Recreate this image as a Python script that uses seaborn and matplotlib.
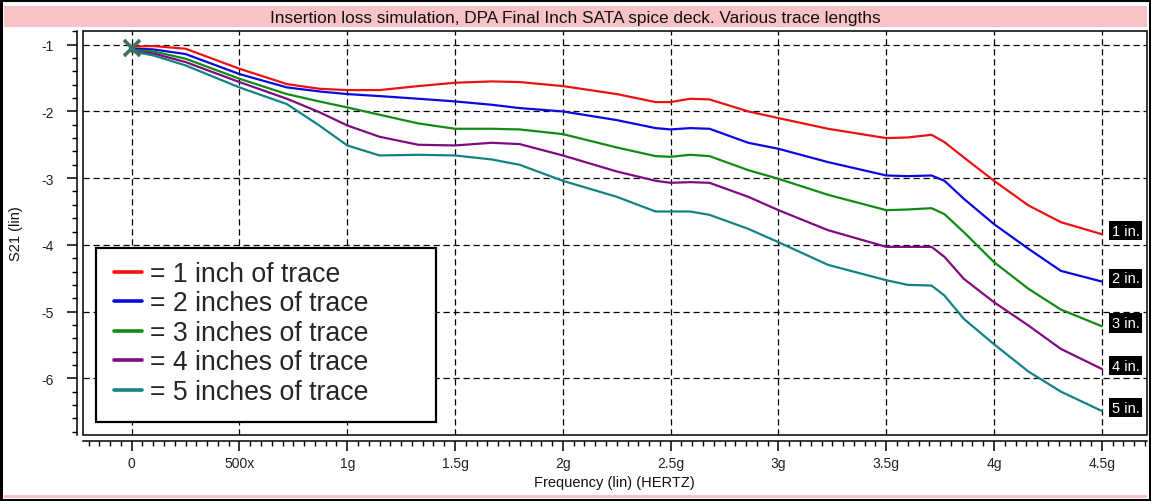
import numpy as np
import pandas as pd
import matplotlib
matplotlib.use("Agg")
import matplotlib.pyplot as plt
import seaborn as sns
from matplotlib.patches import Rectangle
from matplotlib.lines import Line2D
from matplotlib.ticker import MultipleLocator, FixedLocator, FixedFormatter

# ---------------- data ----------------
freq_ghz = [0.0, 0.1, 0.25, 0.5, 0.72, 0.87, 1.0, 1.15, 1.33, 1.5, 1.67, 1.8, 2.0,
            2.25, 2.43, 2.5, 2.59, 2.68, 2.86, 3.0, 3.23, 3.5, 3.6, 3.71, 3.77,
            3.86, 4.0, 4.16, 4.31, 4.5]

s21_1in = [-1.03, -1.02, -1.06, -1.36, -1.59, -1.66, -1.68, -1.68, -1.62, -1.57, -1.55,
           -1.56, -1.62, -1.74, -1.86, -1.86, -1.81, -1.82, -2.00, -2.10, -2.26, -2.40,
           -2.39, -2.35, -2.46, -2.69, -3.04, -3.41, -3.66, -3.84]
s21_2in = [-1.06, -1.07, -1.14, -1.44, -1.64, -1.70, -1.74, -1.77, -1.81, -1.85, -1.90,
           -1.95, -2.00, -2.13, -2.25, -2.27, -2.25, -2.26, -2.47, -2.56, -2.76, -2.96,
           -2.97, -2.96, -3.04, -3.31, -3.69, -4.06, -4.39, -4.55]
s21_3in = [-1.08, -1.10, -1.21, -1.51, -1.74, -1.85, -1.94, -2.05, -2.18, -2.26, -2.26,
           -2.27, -2.34, -2.54, -2.67, -2.68, -2.65, -2.67, -2.88, -3.01, -3.25, -3.48,
           -3.47, -3.45, -3.54, -3.81, -4.26, -4.66, -4.97, -5.22]
s21_4in = [-1.10, -1.13, -1.26, -1.56, -1.81, -2.01, -2.21, -2.38, -2.50, -2.51, -2.47,
           -2.49, -2.66, -2.90, -3.04, -3.07, -3.06, -3.07, -3.28, -3.48, -3.78, -4.03,
           -4.03, -4.03, -4.18, -4.51, -4.86, -5.21, -5.56, -5.86]
s21_5in = [-1.10, -1.16, -1.31, -1.64, -1.89, -2.21, -2.51, -2.66, -2.65, -2.66, -2.72,
           -2.80, -3.04, -3.28, -3.50, -3.50, -3.50, -3.55, -3.76, -3.96, -4.30, -4.53,
           -4.60, -4.61, -4.76, -5.11, -5.49, -5.90, -6.20, -6.49]

trace_tags = ["1 in.", "2 in.", "3 in.", "4 in.", "5 in."]
legend_labels = ["= 1 inch of trace", "= 2 inches of trace", "= 3 inches of trace",
                 "= 4 inches of trace", "= 5 inches of trace"]
x_tick_values = [0, 0.5, 1.0, 1.5, 2.0, 2.5, 3.0, 3.5, 4.0, 4.5]
x_tick_labels = ["0", "500x", "1g", "1.5g", "2g", "2.5g", "3g", "3.5g", "4g", "4.5g"]
y_tick_values = [-1, -2, -3, -4, -5, -6]
y_tick_labels = ["-1", "-2", "-3", "-4", "-5", "-6"]
start_marker = (0.0, -1.05)

title_text = "Insertion loss simulation, DPA Final Inch SATA spice deck. Various trace lengths"
x_label = "Frequency (lin) (HERTZ)"
y_label = "S21 (lin)"

colors = ["#ee1111", "#0a0ae0", "#138a13", "#800a80", "#128282"]

series = [s21_1in, s21_2in, s21_3in, s21_4in, s21_5in]
df = pd.concat([pd.DataFrame({"freq": freq_ghz, "s21": s, "trace": t})
                for s, t in zip(series, trace_tags)], ignore_index=True)

# ---------------- style ----------------
sns.set_style("white")
plt.rcParams["font.family"] = ["Liberation Sans", "DejaVu Sans"]
plt.rcParams["axes.unicode_minus"] = False
narrow = ["Liberation Sans Narrow", "Liberation Sans", "DejaVu Sans"]

W, H = 1151, 502
fig = plt.figure(figsize=(W / 100, H / 100), dpi=100)
fig.patch.set_facecolor("white")


def fx(px):
    return px / W


def fy(py):
    return 1 - py / H


fig.add_artist(Rectangle((fx(4), fy(28)), fx(1143), 21 / H, transform=fig.transFigure,
                         facecolor="#f7c3c4", edgecolor="none", zorder=0))
fig.add_artist(Rectangle((fx(4), fy(499)), fx(1143), 3 / H, transform=fig.transFigure,
                         facecolor="#f7c3c4", edgecolor="none", zorder=0))
fig.add_artist(Rectangle((fx(1), fy(501)), fx(1149), 500 / H, transform=fig.transFigure,
                         facecolor="none", edgecolor="black", linewidth=2.2, zorder=10))
fig.text(0.5, fy(18), title_text, ha="center", va="center", fontsize=12.4,
         family=narrow, color="#111111")

left, right, top, bottom = 82.7, 1146.7, 31.7, 436.0
ax = fig.add_axes([fx(left), fy(bottom), fx(right - left), (bottom - top) / H])
ax.set_facecolor("white")

sns.lineplot(data=df, x="freq", y="s21", hue="trace", palette=colors, linewidth=1.6,
             ax=ax, legend=False, sort=False, estimator=None, zorder=3)

ax.plot([start_marker[0]], [start_marker[1]], marker="x", markersize=11, mew=2.6,
        color="#3f6f63", zorder=4, linestyle="none")

ax.set_xlim(-0.227, 4.708)
ax.set_ylim(-6.85, -0.79)

for s in ["top", "right"]:
    ax.spines[s].set_visible(False)
ax.spines["left"].set_position(("outward", 4))
ax.spines["bottom"].set_position(("outward", 4))
for s in ["left", "bottom"]:
    ax.spines[s].set_linewidth(1.1)
    ax.spines[s].set_color("black")
ax.add_patch(Rectangle((0, 0), 1, 1, transform=ax.transAxes, fill=False,
                       edgecolor="black", linewidth=1.1, clip_on=False, zorder=6))

ax.xaxis.set_major_locator(FixedLocator(x_tick_values))
ax.xaxis.set_major_formatter(FixedFormatter(x_tick_labels))
ax.xaxis.set_minor_locator(MultipleLocator(0.05))
ax.yaxis.set_major_locator(FixedLocator(y_tick_values))
ax.yaxis.set_major_formatter(FixedFormatter(y_tick_labels))
ax.yaxis.set_minor_locator(MultipleLocator(0.2))

ax.tick_params(axis="both", which="both", bottom=True, left=True, top=False, right=False)
ax.tick_params(axis="both", which="major", direction="out", length=7, width=1.1,
               color="black", labelsize=10, labelcolor="#222222")
ax.tick_params(axis="both", which="minor", direction="out", length=3.5, width=1.0,
               color="black")
ax.tick_params(axis="x", which="major", pad=4)
ax.tick_params(axis="y", which="major", pad=10)
for lab in ax.get_xticklabels() + ax.get_yticklabels():
    lab.set_family(narrow)

ax.grid(True, which="major", color="black", linestyle=(0, (5, 3)), linewidth=0.9)
ax.grid(False, which="minor")
ax.set_axisbelow(True)

ax.set_xlabel(x_label, fontsize=10.5, family=narrow, color="#111111", labelpad=4)
ax.set_ylabel(y_label, fontsize=10.5, family=narrow, color="#111111", labelpad=13)

# trace tags at the right end
for s, t in zip(series, trace_tags):
    ax.text(4.545, s[-1] + 0.05, t, ha="left", va="center", fontsize=10.5,
            family=narrow, color="white", zorder=7,
            bbox=dict(boxstyle="square,pad=0.18", facecolor="black", edgecolor="none"))

# legend box (white, framed) and legend content on top
ax.add_patch(Rectangle((fx(96), fy(423)), fx(340), 174 / H, transform=fig.transFigure,
                       facecolor="white", edgecolor="black", linewidth=1.6,
                       clip_on=False, zorder=7))
handles = [Line2D([0], [0], color=c, linewidth=2.6) for c in colors]
leg = ax.legend(handles, legend_labels, loc="upper left",
                bbox_to_anchor=(fx(114), fy(262)), bbox_transform=fig.transFigure,
                frameon=False, fontsize=19.2, handlelength=1.05, handletextpad=0.3,
                labelspacing=0.13, borderpad=0, borderaxespad=0)
leg.set_zorder(8)

fig.savefig("out.png", dpi=100)
